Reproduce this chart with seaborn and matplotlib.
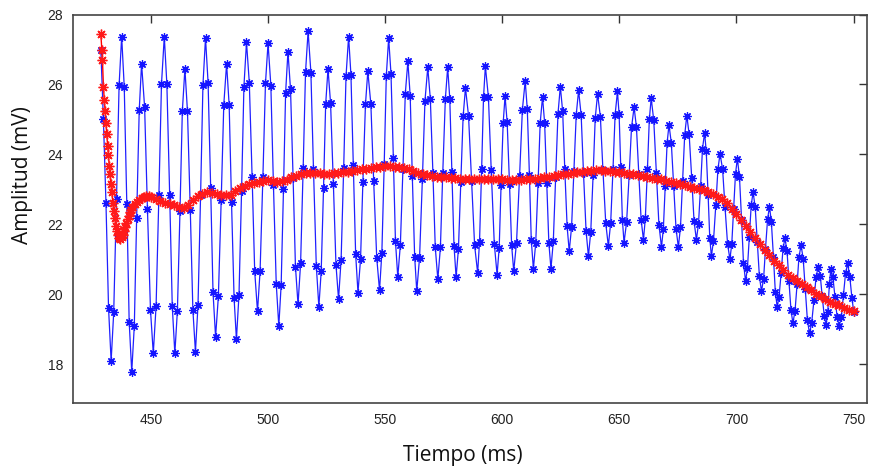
import matplotlib
matplotlib.use('Agg')
import matplotlib.pyplot as plt
import seaborn as sns

# blue trace (raw signal): time (ms) and amplitude (mV)
blue_t = [
    428.6, 429.7, 430.8, 431.9,
    433.0, 434.1, 435.3, 436.4,
    437.5, 438.6, 439.7, 440.7,
    441.8, 442.9, 443.9, 445.0,
    446.0, 447.3, 448.5, 449.8,
    451.0, 452.2, 453.4, 454.5,
    455.7, 456.8, 458.0, 459.1,
    460.2, 461.3, 462.4, 463.4,
    464.5, 465.6, 466.8, 467.9,
    469.0, 470.1, 471.2, 472.2,
    473.3, 474.4, 475.5, 476.5,
    477.6, 478.8, 480.0, 481.1,
    482.3, 483.4, 484.4, 485.5,
    486.5, 487.6, 488.7, 489.7,
    490.8, 492.0, 493.2, 494.3,
    495.5, 496.6, 497.8, 498.9,
    500.0, 501.2, 502.3, 503.5,
    504.6, 505.6, 506.6, 507.5,
    508.5, 509.6, 510.7, 511.7,
    512.8, 513.9, 515.0, 516.0,
    517.1, 518.3, 519.4, 520.6,
    521.7, 522.7, 523.7, 524.6,
    525.6, 526.7, 527.9, 529.0,
    530.1, 531.2, 532.3, 533.3,
    534.4, 535.4, 536.4, 537.4,
    538.4, 539.5, 540.5, 541.6,
    542.6, 543.9, 545.1, 546.4,
    547.6, 548.6, 549.6, 550.5,
    551.5, 552.5, 553.5, 554.4,
    555.4, 556.5, 557.6, 558.6,
    559.7, 560.7, 561.6, 562.6,
    563.5, 564.7, 565.9, 567.0,
    568.2, 569.3, 570.4, 571.4,
    572.5, 573.6, 574.6, 575.7,
    576.7, 577.6, 578.5, 579.4,
    580.3, 581.3, 582.3, 583.3,
    584.3, 585.6, 586.9, 588.2,
    589.5, 590.3, 591.2, 592.0,
    592.8, 594.1, 595.3, 596.6,
    597.8, 598.7, 599.5, 600.4,
    601.2, 602.1, 603.1, 604.0,
    604.9, 606.1, 607.4, 608.6,
    609.8, 610.7, 611.6, 612.4,
    613.3, 614.3, 615.3, 616.2,
    617.2, 618.1, 619.0, 619.9,
    620.8, 621.8, 622.8, 623.8,
    624.8, 625.8, 626.7, 627.7,
    628.6, 629.6, 630.6, 631.6,
    632.6, 633.7, 634.7, 635.8,
    636.8, 637.8, 638.8, 639.7,
    640.7, 641.9, 643.0, 644.2,
    645.3, 646.3, 647.3, 648.2,
    649.2, 649.9, 650.6, 651.3,
    652.0, 653.1, 654.2, 655.2,
    656.3, 657.3, 658.3, 659.3,
    660.3, 661.1, 662.0, 662.8,
    663.6, 664.7, 665.8, 666.9,
    668.0, 668.8, 669.6, 670.4,
    671.2, 672.2, 673.2, 674.2,
    675.2, 676.1, 677.0, 677.9,
    678.8, 679.8, 680.9, 681.9,
    682.9, 683.8, 684.7, 685.5,
    686.4, 687.1, 687.9, 688.6,
    689.3, 690.2, 691.2, 692.1,
    693.0, 694.1, 695.1, 696.2,
    697.2, 698.0, 698.8, 699.6,
    700.4, 701.3, 702.2, 703.0,
    703.9, 704.7, 705.5, 706.3,
    707.1, 708.0, 708.9, 709.8,
    710.7, 711.6, 712.4, 713.3,
    714.1, 714.9, 715.8, 716.6,
    717.4, 718.2, 719.1, 719.9,
    720.7, 721.6, 722.4, 723.3,
    724.1, 725.0, 725.9, 726.7,
    727.6, 728.5, 729.4, 730.3,
    731.2, 732.1, 733.1, 734.0,
    734.9, 735.8, 736.6, 737.5,
    738.3, 739.0, 739.7,
    740.3, 741.2, 742.1, 743.0,
    743.9, 744.8, 745.7, 746.6,
    747.5, 748.4, 749.3,
    750.1,
]
blue_v = [
    27.00, 25.00, 22.60, 19.60,
    18.09, 19.48, 22.73, 25.98,
    27.37, 25.93, 22.57, 19.22,
    17.78, 19.10, 22.19, 25.27,
    26.59, 25.35, 22.45, 19.55,
    18.31, 19.67, 22.84, 26.01,
    27.37, 26.01, 22.84, 19.67,
    18.31, 19.53, 22.38, 25.23,
    26.45, 25.23, 22.40, 19.56,
    18.35, 19.70, 22.84, 25.98,
    27.33, 26.05, 23.05, 20.06,
    18.78, 19.95, 22.69, 25.42,
    26.59, 25.41, 22.65, 19.89,
    18.71, 19.99, 22.96, 25.94,
    27.21, 26.05, 23.36, 20.66,
    19.51, 20.66, 23.35, 26.03,
    27.18, 25.97, 23.13, 20.30,
    19.09, 20.27, 23.02, 25.76,
    26.94, 25.86, 23.32, 20.79,
    19.71, 20.88, 23.62, 26.35,
    27.52, 26.34, 23.58, 20.82,
    19.64, 20.66, 23.05, 25.43,
    26.45, 25.46, 23.15, 20.85,
    19.86, 20.99, 23.62, 26.24,
    27.37, 26.27, 23.71, 21.15,
    20.05, 21.00, 23.22, 25.43,
    26.38, 25.44, 23.24, 21.05,
    20.11, 21.19, 23.72, 26.25,
    27.33, 26.30, 23.91, 21.52,
    20.49, 21.42, 23.58, 25.73,
    26.66, 25.67, 23.37, 21.08,
    20.09, 21.05, 23.29, 25.53,
    26.49, 25.58, 23.46, 21.34,
    20.43, 21.34, 23.46, 25.58,
    26.49, 25.59, 23.49, 21.39,
    20.49, 21.30, 23.20, 25.09,
    25.90, 25.11, 23.25, 21.40,
    20.61, 21.50, 23.57, 25.63,
    26.52, 25.63, 23.54, 21.45,
    20.56, 21.33, 23.12, 24.90,
    25.67, 24.92, 23.16, 21.41,
    20.66, 21.48, 23.38, 25.28,
    26.10, 25.29, 23.41, 21.54,
    20.73, 21.47, 23.19, 24.90,
    25.64, 24.90, 23.19, 21.47,
    20.73, 21.51, 23.34, 25.16,
    25.94, 25.23, 23.58, 21.94,
    21.23, 21.92, 23.53, 25.14,
    25.83, 25.12, 23.46, 21.80,
    21.09, 21.79, 23.41, 25.03,
    25.73, 25.08, 23.55, 22.03,
    21.38, 22.04, 23.59, 25.14,
    25.80, 25.15, 23.64, 22.13,
    21.48, 22.06, 23.42, 24.77,
    25.35, 24.78, 23.45, 22.13,
    21.56, 22.17, 23.59, 25.00,
    25.61, 24.97, 23.48, 21.99,
    21.35, 21.88, 23.10, 24.33,
    24.85, 24.32, 23.10, 21.88,
    21.35, 21.91, 23.23, 24.55,
    25.11, 24.58, 23.33, 22.09,
    21.56, 22.02, 23.09, 24.16,
    24.62, 24.09, 22.85, 21.62,
    21.09, 21.53, 22.56, 23.58,
    24.02, 23.57, 22.51, 21.45,
    21.00, 21.43, 22.44, 23.45,
    23.88, 23.35, 22.12, 20.90,
    20.37, 20.75, 21.65, 22.54,
    22.92, 22.50, 21.50, 20.51,
    20.09, 20.45, 21.30, 22.15,
    22.51, 22.08, 21.07, 20.07,
    19.64, 19.93, 20.62, 21.31,
    21.60, 21.24, 20.39, 19.54,
    19.18, 19.51, 20.29, 21.07,
    21.40, 21.02, 20.14, 19.26,
    18.88, 19.17, 19.83, 20.50,
    20.78, 20.53, 19.95, 19.38,
    19.13, 19.50, 20.30,
    20.73, 20.48, 19.91, 19.34,
    19.09, 19.36, 19.99, 20.61,
    20.88, 20.50, 19.90,
    19.49,
]

# red trace (smoothed signal)
red_t = [
    428.6, 429.0, 429.3, 429.7, 430.1, 430.4, 430.8, 431.1, 431.5, 431.8,
    432.2, 432.5, 432.9, 433.3, 433.7, 434.1, 434.5, 435.0, 435.5, 436.0,
    436.5, 437.0, 437.5, 438.0, 438.5, 439.0, 439.5, 440.0, 440.5, 441.0,
    441.5, 442.0, 443.0, 444.0, 445.0, 446.0, 447.0, 448.0, 449.0,
    450, 452, 454, 456, 458, 460, 462, 464, 466, 468,
    470, 472, 474, 476, 478, 480, 482, 484, 486, 488,
    490, 492, 494, 496, 498, 500, 502, 504, 506, 508,
    510, 512, 514, 516, 518, 520, 522, 524, 526, 528,
    530, 532, 534, 536, 538, 540, 542, 544, 546, 548,
    550, 552, 554, 556, 558, 560, 562, 564, 566, 568,
    570, 572, 574, 576, 578, 580, 582, 584, 586, 588,
    590, 592, 594, 596, 598, 600, 602, 604, 606, 608,
    610, 612, 614, 616, 618, 620, 622, 624, 626, 628,
    630, 632, 634, 636, 638, 640, 642, 644, 646, 648,
    650, 652, 654, 656, 658, 660, 662, 664, 666, 668,
    670, 672, 674, 676, 678, 680, 682, 684, 686, 688,
    690, 692, 694, 696, 698, 700, 702, 704, 706, 708,
    710, 712, 714, 716, 718, 720, 722, 724, 726, 728,
    730, 732, 734, 736, 738, 740, 742, 744, 746, 748,
    750,
]
red_v = [
    27.45, 27.00, 26.70, 25.94, 25.55, 25.23, 24.90, 24.59, 24.25, 23.97,
    23.68, 23.43, 23.15, 22.92, 22.62, 22.38, 22.18, 21.95, 21.80, 21.70,
    21.62, 21.59, 21.63, 21.70, 21.80, 21.93, 22.05, 22.15, 22.25, 22.34,
    22.42, 22.49, 22.58, 22.65, 22.71, 22.76, 22.79, 22.80, 22.80,
    22.79, 22.73, 22.68, 22.62, 22.57, 22.54, 22.50, 22.46, 22.56, 22.70,
    22.80, 22.88, 22.92, 22.91, 22.88, 22.85, 22.83, 22.85, 22.94, 23.03,
    23.09, 23.14, 23.19, 23.22, 23.25, 23.26, 23.25, 23.22, 23.23, 23.28,
    23.34, 23.39, 23.43, 23.46, 23.47, 23.47, 23.46, 23.45, 23.45, 23.46,
    23.48, 23.50, 23.51, 23.53, 23.55, 23.57, 23.59, 23.61, 23.63, 23.65,
    23.66, 23.66, 23.65, 23.64, 23.61, 23.57, 23.53, 23.48, 23.43, 23.40,
    23.37, 23.36, 23.35, 23.34, 23.33, 23.32, 23.31, 23.31, 23.31, 23.31,
    23.31, 23.31, 23.30, 23.30, 23.29, 23.29, 23.28, 23.28, 23.28, 23.28,
    23.29, 23.30, 23.31, 23.32, 23.34, 23.36, 23.38, 23.40, 23.43, 23.45,
    23.47, 23.49, 23.51, 23.52, 23.53, 23.54, 23.54, 23.53, 23.52, 23.51,
    23.49, 23.47, 23.45, 23.43, 23.40, 23.37, 23.35, 23.33, 23.31, 23.29,
    23.25, 23.22, 23.19, 23.15, 23.12, 23.08, 23.05, 23.02, 22.97, 22.92,
    22.86, 22.79, 22.72, 22.60, 22.45, 22.29, 22.13, 21.95, 21.77, 21.60,
    21.43, 21.27, 21.11, 20.96, 20.83, 20.70, 20.56, 20.46, 20.37, 20.28,
    20.20, 20.11, 20.02, 19.94, 19.86, 19.79, 19.73, 19.68, 19.61, 19.56,
    19.52,
]

x_ticks = [450, 500, 550, 600, 650, 700, 750]
y_ticks = [18, 20, 22, 24, 26, 28]

sns.set_theme(style='white')
plt.rcParams['font.family'] = ['Liberation Sans', 'DejaVu Sans']

fig, ax = plt.subplots(figsize=(8.73, 4.69), dpi=100)
fig.subplots_adjust(left=0.0833, right=0.993, bottom=0.1407, top=0.969)

# matlab-like asterisk markers
star = (8, 2, 0)
sns.lineplot(x=blue_t, y=blue_v, ax=ax, sort=False, estimator=None,
             color='#2020ff', linewidth=0.9, marker=star, markersize=6,
             markeredgewidth=0.9, markeredgecolor='#1515ff')
sns.lineplot(x=red_t, y=red_v, ax=ax, sort=False, estimator=None,
             color='#ff0000', linewidth=1.0, marker=star, markersize=7,
             markeredgewidth=1.0, markeredgecolor='#ff1a1a')

ax.set_xlim(416.6, 755.7)
ax.set_ylim(16.89, 28)
ax.set_xticks(x_ticks)
ax.set_yticks(y_ticks)

for s in ax.spines.values():
    s.set_visible(True)
    s.set_color('#444444')
    s.set_linewidth(1.2)
ax.tick_params(direction='in', length=6, width=1, color='#333333',
               top=True, right=True, labelsize=10, labelcolor='#222222', pad=7)

ax.set_xlabel('Tiempo (ms)', fontsize=15, family=['Open Sans', 'DejaVu Sans'], color='#111111')
ax.set_ylabel('Amplitud (mV)', fontsize=15, family=['Open Sans', 'DejaVu Sans'], color='#111111')
ax.xaxis.set_label_coords(0.491, -0.134)
ax.yaxis.set_label_coords(-0.063, 0.586)
ax.xaxis.label.set_va('center')
ax.yaxis.label.set_va('center')

plt.savefig('out.png', dpi=100)
